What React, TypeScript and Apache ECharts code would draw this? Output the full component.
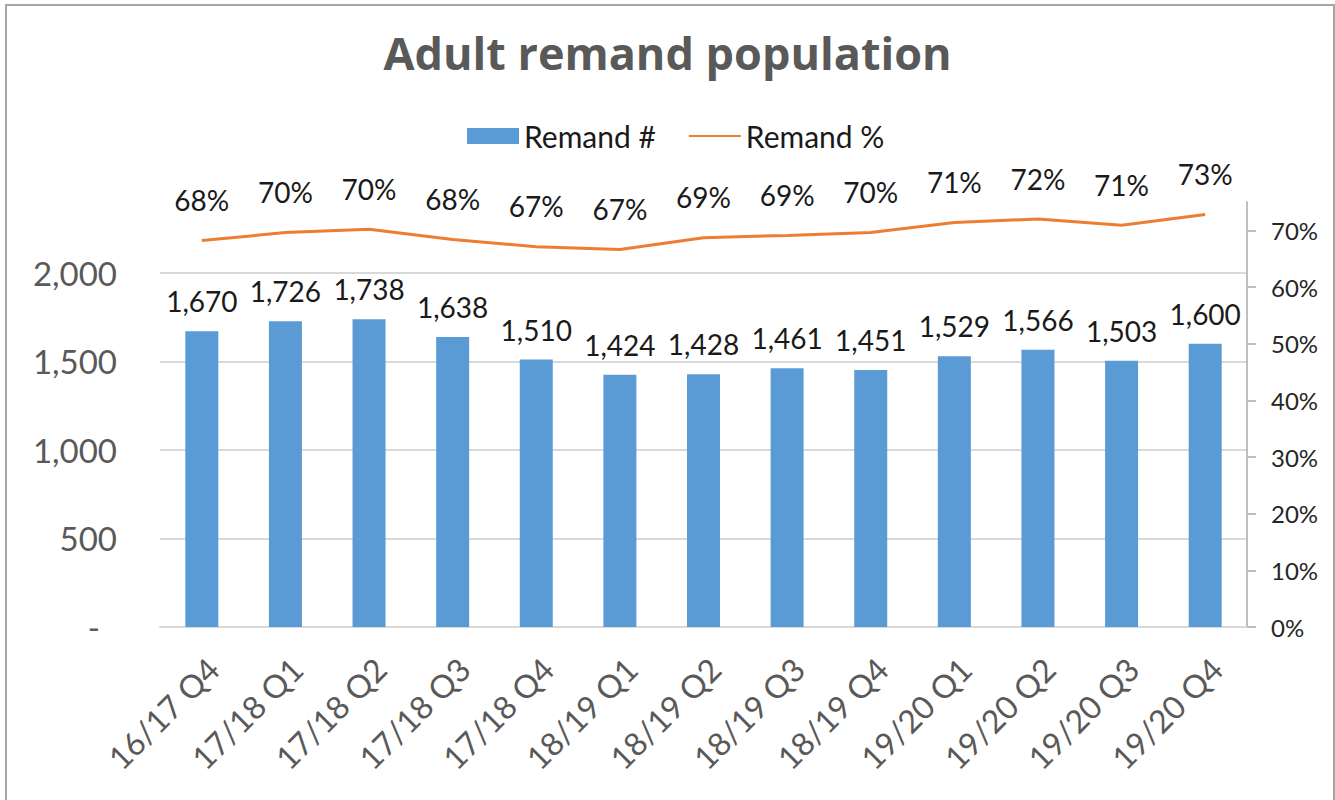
import React, { useEffect, useRef } from "react";
import * as echarts from "echarts";

const categories = [
  "16/17 Q4", "17/18 Q1", "17/18 Q2", "17/18 Q3", "17/18 Q4", "18/19 Q1", "18/19 Q2",
  "18/19 Q3", "18/19 Q4", "19/20 Q1", "19/20 Q2", "19/20 Q3", "19/20 Q4",
];
const remandCount = [1670, 1726, 1738, 1638, 1510, 1424, 1428, 1461, 1451, 1529, 1566, 1503, 1600];
const remandPct = [0.682, 0.696, 0.702, 0.684, 0.671, 0.666, 0.687, 0.691, 0.696, 0.714, 0.72, 0.709, 0.728];
const leftTicks = [0, 500, 1000, 1500, 2000];
const rightTicks = [0, 0.1, 0.2, 0.3, 0.4, 0.5, 0.6, 0.7];

const FONT = "Lato";

export default function App() {
  const ref = useRef<HTMLDivElement>(null);
  useEffect(() => {
    if (!ref.current) return;
    const chart = echarts.init(ref.current, null, { renderer: "svg" });
    chart.setOption({
      animation: false,
      backgroundColor: "#ffffff",
      textStyle: { fontFamily: FONT },
      title: {
        text: "Adult remand population",
        left: "center",
        top: 25,
        textStyle: { fontFamily: "Open Sans", fontSize: 45, fontWeight: "bold", color: "#595959" },
      },
      legend: {
        top: 116,
        left: 462,
        itemWidth: 52,
        itemHeight: 16,
        itemGap: 32,
        textStyle: { fontFamily: FONT, fontSize: 30, color: "#1a1a1a" },
        data: [
          { name: "Remand #", icon: "rect" },
          { name: "Remand %", itemStyle: { color: "rgba(0,0,0,0)", borderWidth: 0, opacity: 0 } },
        ],
      },
      graphic: [
        {
          type: "rect",
          shape: { x: 6, y: 5, width: 1328, height: 810 },
          style: { fill: "none", stroke: "#a6a6a6", lineWidth: 2 },
          silent: true,
        },
      ],
      grid: { left: 160, right: 88, top: 202, bottom: 173, containLabel: false },
      xAxis: {
        type: "category",
        data: categories,
        axisLine: { lineStyle: { color: "#d9d9d9", width: 2 } },
        axisTick: { show: false },
        axisLabel: {
          rotate: 45,
          margin: 25,
          verticalAlign: "top",
          fontFamily: FONT,
          fontSize: 32,
          color: "#595959",
          interval: 0,
        },
      },
      yAxis: [
        {
          type: "value",
          min: 0,
          max: 2400,
          interval: 500,
          axisLine: { show: false },
          axisTick: { show: false },
          splitLine: { show: true, showMaxLine: false, lineStyle: { color: "#d9d9d9", width: 2 } },
          axisLabel: {
            customValues: leftTicks,
            margin: 43,
            fontFamily: FONT,
            fontSize: 33,
            color: "#595959",
            formatter: (v: number) => (v === 0 ? "{d|-}" : v.toLocaleString("en-US")),
            rich: { d: { fontFamily: FONT, fontSize: 33, color: "#595959", padding: [0, 17, 0, 0] } },
          },
        },
        {
          type: "value",
          min: 0,
          max: 0.75,
          interval: 0.1,
          position: "right",
          axisLine: { show: true, lineStyle: { color: "#bfbfbf", width: 2 } },
          axisTick: { show: true, customValues: rightTicks, length: 9, lineStyle: { color: "#bfbfbf", width: 2 } },
          splitLine: { show: false },
          axisLabel: {
            customValues: rightTicks,
            margin: 24,
            fontFamily: FONT,
            fontSize: 24,
            color: "#262626",
            formatter: (v: number) => Math.round(v * 100) + "%",
          },
        },
      ],
      series: [
        {
          name: "Remand #",
          type: "bar",
          yAxisIndex: 0,
          data: remandCount,
          barWidth: 33,
          itemStyle: { color: "#5b9bd5" },
          label: {
            show: true,
            position: "top",
            distance: 16,
            fontFamily: FONT,
            fontSize: 28,
            color: "#1a1a1a",
            formatter: (p: any) => Number(p.value).toLocaleString("en-US"),
          },
        },
        {
          name: "Remand %",
          type: "line",
          yAxisIndex: 1,
          data: remandPct,
          symbol: "none",
          lineStyle: { color: "#ed7d31", width: 3 },
          itemStyle: { color: "#ed7d31" },
        },
        {
          name: "Remand % labels",
          type: "scatter",
          yAxisIndex: 1,
          data: remandPct,
          symbolSize: 1,
          itemStyle: { color: "rgba(0,0,0,0)", opacity: 1 },
          silent: true,
          label: {
            show: true,
            position: "top",
            distance: 26,
            fontFamily: FONT,
            fontSize: 28,
            color: "#1a1a1a",
            opacity: 1,
            formatter: (p: any) => Math.round(p.value * 100) + "%",
          },
        },
      ],
    });
    return () => chart.dispose();
  }, []);
  return (
    <div
      ref={ref}
      style={{ position: "absolute", left: 0, top: 0, width: 1335, height: 800, background: "#fff" }}
    />
  );
}
